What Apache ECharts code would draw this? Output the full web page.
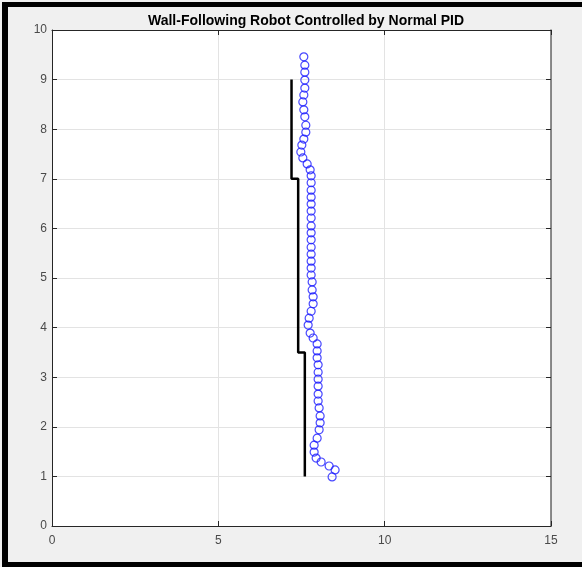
<!DOCTYPE html>
<html>
<head>
<meta charset="utf-8">
<script src="https://cdn.jsdelivr.net/npm/echarts@6/dist/echarts.min.js"></script>
<style>
html,body{margin:0;padding:0;background:#f0f0f0;}
#chart{width:582px;height:567px;position:absolute;left:0;top:0;}
.bar{position:absolute;background:#000;}
</style>
</head>
<body>
<div id="chart"></div>
<div class="bar" style="left:2px;top:2px;width:580px;height:5px;"></div>
<div class="bar" style="left:2px;top:2px;width:6px;height:565px;"></div>
<div class="bar" style="left:2px;top:562px;width:580px;height:5px;"></div>
<script>
var titleText = 'Wall-Following Robot Controlled by Normal PID';
var xTicks = [0, 5, 10, 15];
var yTicks = [0, 1, 2, 3, 4, 5, 6, 7, 8, 9, 10];

var wallX = [7.6, 7.6, 7.4, 7.4, 7.2, 7.2];
var wallY = [1.0, 3.5, 3.5, 7.0, 7.0, 9.0];

var robotX = [8.42, 8.51, 8.33, 8.09, 7.94, 7.88, 7.88, 7.97, 8.03, 8.06,
              8.06, 8.03, 8.00, 8.00, 8.00, 8.00, 8.00, 8.00, 7.97, 7.97,
              7.97, 7.85, 7.76, 7.70, 7.73, 7.79, 7.85, 7.85, 7.82, 7.82,
              7.79, 7.79, 7.79, 7.79, 7.79, 7.79, 7.79, 7.79, 7.79, 7.79,
              7.79, 7.79, 7.79, 7.79, 7.79, 7.76, 7.67, 7.54, 7.48, 7.51,
              7.57, 7.63, 7.63, 7.60, 7.57, 7.54, 7.57, 7.60, 7.60, 7.60,
              7.60, 7.57];
var robotY = [0.99, 1.13, 1.21, 1.29, 1.37, 1.49, 1.63, 1.77, 1.94, 2.08,
              2.22, 2.38, 2.52, 2.66, 2.82, 2.96, 3.10, 3.25, 3.39, 3.53,
              3.67, 3.79, 3.89, 4.05, 4.19, 4.33, 4.48, 4.62, 4.76, 4.92,
              5.06, 5.20, 5.34, 5.48, 5.62, 5.77, 5.91, 6.05, 6.21, 6.35,
              6.49, 6.63, 6.77, 6.92, 7.06, 7.18, 7.30, 7.42, 7.54, 7.68,
              7.80, 7.94, 8.08, 8.25, 8.39, 8.55, 8.69, 8.83, 8.99, 9.15,
              9.29, 9.46];

var wallData = wallX.map(function (v, i) { return [v, wallY[i]]; });
var robotData = robotX.map(function (v, i) { return [v, robotY[i]]; });

var axisColor = '#262626';
var labelColor = '#4a4a4a';
var font = 'Liberation Sans, Arial, sans-serif';

var chart = echarts.init(document.getElementById('chart'), null, {renderer: 'canvas'});
chart.setOption({
  backgroundColor: '#f0f0f0',
  animation: false,
  title: {
    text: titleText,
    left: 301, top: 9, textAlign: 'center',
    textStyle: {fontFamily: font, fontSize: 14, fontWeight: 'bold', color: '#000'}
  },
  grid: {left: 52, right: 31, top: 30, bottom: 41, show: true, backgroundColor: '#ffffff', borderWidth: 0},
  xAxis: [{
    type: 'value', min: xTicks[0], max: xTicks[xTicks.length - 1], interval: 5,
    position: 'bottom',
    axisLine: {show: true, onZero: false, lineStyle: {color: axisColor, width: 1}},
    axisTick: {show: true, inside: true, length: 5, lineStyle: {color: axisColor}},
    axisLabel: {color: labelColor, fontFamily: font, fontSize: 12, margin: 9},
    splitLine: {show: true, lineStyle: {color: '#e3e3e3', width: 1}}
  }, {
    type: 'value', min: xTicks[0], max: xTicks[xTicks.length - 1], interval: 5,
    position: 'top',
    axisLine: {show: true, onZero: false, lineStyle: {color: axisColor, width: 1}},
    axisTick: {show: true, inside: true, length: 5, lineStyle: {color: axisColor}},
    axisLabel: {show: false},
    splitLine: {show: false}
  }],
  yAxis: [{
    type: 'value', min: yTicks[0], max: yTicks[yTicks.length - 1], interval: 1,
    position: 'left',
    axisLine: {show: true, onZero: false, lineStyle: {color: axisColor, width: 1}},
    axisTick: {show: true, inside: true, length: 5, lineStyle: {color: axisColor}},
    axisLabel: {color: labelColor, fontFamily: font, fontSize: 12, margin: 5},
    splitLine: {show: true, lineStyle: {color: '#e3e3e3', width: 1}}
  }, {
    type: 'value', min: yTicks[0], max: yTicks[yTicks.length - 1], interval: 1,
    position: 'right',
    axisLine: {show: true, onZero: false, lineStyle: {color: '#666666', width: 1.5}},
    axisTick: {show: true, inside: true, length: 5, lineStyle: {color: axisColor}},
    axisLabel: {show: false},
    splitLine: {show: false}
  }],
  series: [{
    type: 'line',
    data: wallData,
    showSymbol: false,
    symbol: 'none',
    lineStyle: {color: '#000000', width: 2.5},
    z: 2
  }, {
    type: 'scatter',
    data: robotData,
    symbol: 'circle',
    symbolSize: 8,
    itemStyle: {color: 'rgba(0,0,0,0)', borderColor: '#1a1aff', borderWidth: 1.2},
    z: 3
  }]
});
</script>
</body>
</html>
